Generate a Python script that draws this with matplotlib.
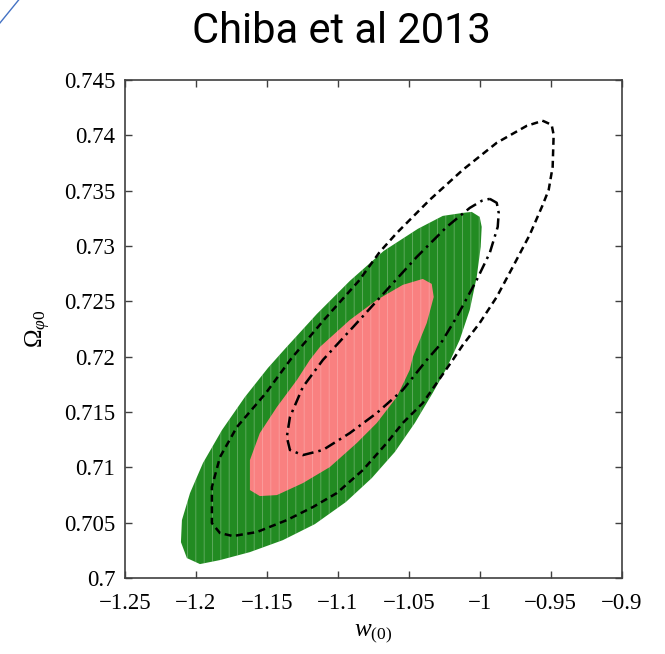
import numpy as np
import matplotlib
matplotlib.use('Agg')
import matplotlib.pyplot as plt
from matplotlib.ticker import FuncFormatter
from matplotlib.lines import Line2D

plt.rcParams['font.family'] = ['Liberation Serif', 'DejaVu Serif']
plt.rcParams['mathtext.fontset'] = 'custom'
plt.rcParams['mathtext.rm'] = 'Liberation Serif'
plt.rcParams['mathtext.it'] = 'Liberation Serif:italic'
plt.rcParams['hatch.linewidth'] = 0.6

# outer (green) region
green_w = [-0.9987, -0.9994, -1.0022, -1.0071, -1.0142, -1.0233, -1.0332, -1.0458,
           -1.0599, -1.0761, -1.0944, -1.1162, -1.1388, -1.1620, -1.1831, -1.1972,
           -1.2064, -1.2106, -1.2099, -1.2042, -1.1951, -1.1817, -1.1655, -1.1493,
           -1.1374, -1.1148, -1.0916, -1.0677, -1.0437, -1.0261, -1.0120, -1.0057,
           -1.0001]
green_om = [0.73172, 0.72991, 0.72720, 0.72422, 0.72151, 0.71898, 0.71672, 0.71401,
            0.71139, 0.70904, 0.70687, 0.70488, 0.70343, 0.70235, 0.70163, 0.70127,
            0.70181, 0.70325, 0.70524, 0.70768, 0.71039, 0.71337, 0.71636, 0.71898,
            0.72069, 0.72386, 0.72684, 0.72955, 0.73154, 0.73271, 0.73298, 0.73307,
            0.73262]

# inner (pink) region
pink_w = [-1.0402, -1.0339, -1.0325, -1.0374, -1.0472, -1.0494, -1.0585, -1.0726,
          -1.0867, -1.1057, -1.1247, -1.1430, -1.1550, -1.1620, -1.1620, -1.1550,
          -1.1430, -1.1289, -1.1198, -1.1127, -1.0916, -1.0726, -1.0543]
pink_om = [0.72702, 0.72657, 0.72539, 0.72304, 0.71997, 0.71880, 0.71636, 0.71401,
           0.71220, 0.71003, 0.70858, 0.70750, 0.70741, 0.70795, 0.71066, 0.71310,
           0.71545, 0.71789, 0.71970, 0.72087, 0.72331, 0.72512, 0.72648]

# dash-dot contour
dd_w = [-0.9930, -0.9881, -0.9867, -0.9874, -0.9930, -1.0022, -1.0163, -1.0282,
        -1.0374, -1.0543, -1.0726, -1.0916, -1.1106, -1.1247, -1.1338, -1.1360,
        -1.1338, -1.1247, -1.1106, -1.0867, -1.0656, -1.0444, -1.0233, -1.0071,
        -0.9987, -0.9930]
dd_om = [0.73425, 0.73389, 0.73298, 0.73172, 0.72937, 0.72693, 0.72358, 0.72105,
         0.71970, 0.71699, 0.71491, 0.71310, 0.71157, 0.71111, 0.71157, 0.71274,
         0.71455, 0.71726, 0.71970, 0.72304, 0.72602, 0.72901, 0.73172, 0.73343,
         0.73407, 0.73425]

# dashed contour
da_w = [-0.9557, -0.9494, -0.9480, -0.9487, -0.9515, -0.9557, -0.9649, -0.9768,
        -0.9881, -1.0001, -1.0120, -1.0191, -1.0304, -1.0402, -1.0543, -1.0656,
        -1.0824, -1.1008, -1.1176, -1.1360, -1.1571, -1.1740, -1.1831, -1.1888,
        -1.1888, -1.1831, -1.1712, -1.1507, -1.1331, -1.1099, -1.0853, -1.0705,
        -1.0585, -1.0353, -1.0120, -0.9881, -0.9670, -0.9557]
da_om = [0.74130, 0.74093, 0.74003, 0.73714, 0.73506, 0.73370, 0.73099, 0.72810,
         0.72539, 0.72304, 0.72105, 0.71970, 0.71762, 0.71581, 0.71401, 0.71220,
         0.70976, 0.70768, 0.70642, 0.70524, 0.70416, 0.70380, 0.70407, 0.70497,
         0.70822, 0.71093, 0.71364, 0.71672, 0.71979, 0.72331, 0.72684, 0.72946,
         0.73117, 0.73416, 0.73687, 0.73931, 0.74084, 0.74130]

xticks = [-1.25, -1.2, -1.15, -1.1, -1.05, -1.0, -0.95, -0.9]
yticks = [0.7, 0.705, 0.71, 0.715, 0.72, 0.725, 0.73, 0.735, 0.74, 0.745]

fig = plt.figure(figsize=(6.65, 6.54), dpi=100)
ax = fig.add_axes([0.188, 0.116, 0.747, 0.762])

ax.fill(green_w, green_om, facecolor='#228b22', edgecolor=(1, 1, 1, 0.3),
        lw=0, hatch='||', zorder=1)
ax.fill(pink_w, pink_om, facecolor='#f98080', edgecolor=(1, 1, 1, 0.25),
        lw=0, hatch='||', zorder=2)
ax.plot(dd_w, dd_om, color='black', lw=1.8, linestyle=(0, (4.5, 2, 1, 2)), zorder=3)
ax.plot(da_w, da_om, color='black', lw=1.8, linestyle=(0, (2.8, 1.8)), zorder=3)

ax.set_xlim(-1.25, -0.9)
ax.set_ylim(0.7, 0.745)
ax.set_xticks(xticks)
ax.set_yticks(yticks)
fmt = FuncFormatter(lambda v, p: ('%g' % round(v, 4)).replace('-', '\u2212'))
ax.xaxis.set_major_formatter(fmt)
ax.yaxis.set_major_formatter(fmt)
ax.tick_params(direction='in', top=True, right=True, length=5, width=1,
               color='#404040', labelsize=16.5)
ax.tick_params(axis='x', pad=11)
ax.tick_params(axis='y', pad=7)
for s in ax.spines.values():
    s.set_color('#404040')
    s.set_linewidth(1.2)

ax.set_xlabel(r'$w_{(0)}$', fontsize=18, labelpad=6)
ax.set_ylabel(r'$\Omega_{\varphi 0}$', fontsize=18, labelpad=8)

fig.text(0.513, 0.934, 'Chiba et al 2013', family='Roboto', fontsize=30,
         ha='center', va='baseline')
fig.add_artist(Line2D([0.0, 0.028], [0.965, 1.0], transform=fig.transFigure,
                      color='#4472c4', lw=1))

fig.savefig('out.png', dpi=100)
